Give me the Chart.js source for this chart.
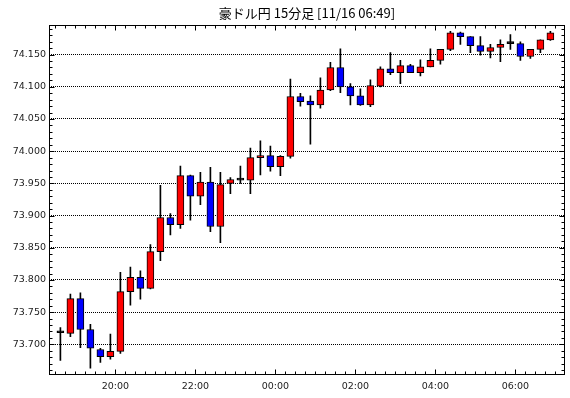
<!DOCTYPE html>
<html>
<head>
  <meta charset="utf-8">
  <script src="https://cdn.jsdelivr.net/npm/chart.js"></script>
  <style>
    body { margin: 0; background: #fff; }
  </style>
</head>
<body>
  <canvas id="chartContainer" width="570" height="398"></canvas>
  <script>
    // 15 minute candles, start time of each bar
    const times = ['18:30','18:45','19:00','19:15','19:30','19:45','20:00','20:15','20:30','20:45',
                   '21:00','21:15','21:30','21:45','22:00','22:15','22:30','22:45','23:00','23:15',
                   '23:30','23:45','00:00','00:15','00:30','00:45','01:00','01:15','01:30','01:45',
                   '02:00','02:15','02:30','02:45','03:00','03:15','03:30','03:45','04:00','04:15',
                   '04:30','04:45','05:00','05:15','05:30','05:45','06:00','06:15','06:30','06:45'];
    const opens  = [73.718,73.717,73.771,73.723,73.692,73.681,73.689,73.782,73.804,73.787,
                    73.844,73.897,73.886,73.962,73.930,73.952,73.883,73.950,73.955,73.955,
                    73.990,73.993,73.976,73.992,74.085,74.078,74.072,74.095,74.130,74.100,
                    74.086,74.072,74.101,74.128,74.122,74.133,74.122,74.131,74.141,74.158,
                    74.184,74.178,74.164,74.155,74.161,74.167,74.167,74.147,74.158,74.173];
    const highs  = [73.726,73.778,73.780,73.731,73.694,73.716,73.812,73.820,73.814,73.855,
                    73.947,73.903,73.977,73.963,73.967,73.975,73.967,73.959,73.977,74.005,
                    74.016,74.008,73.993,74.112,74.090,74.086,74.114,74.138,74.159,74.105,
                    74.097,74.111,74.131,74.153,74.141,74.135,74.142,74.159,74.158,74.186,
                    74.185,74.178,74.178,74.166,74.173,74.181,74.170,74.158,74.173,74.186];
    const lows   = [73.675,73.712,73.695,73.663,73.672,73.677,73.686,73.761,73.770,73.786,
                    73.830,73.870,73.880,73.893,73.917,73.875,73.858,73.934,73.950,73.934,
                    73.963,73.969,73.962,73.989,74.070,74.011,74.067,74.094,74.091,74.072,
                    74.071,74.069,74.100,74.119,74.105,74.122,74.117,74.131,74.135,74.156,
                    74.166,74.153,74.149,74.145,74.139,74.158,74.141,74.144,74.153,74.172];
    const closes = [73.718,73.771,73.723,73.694,73.681,73.689,73.782,73.804,73.787,73.844,
                    73.897,73.886,73.962,73.930,73.952,73.883,73.948,73.956,73.955,73.990,
                    73.993,73.976,73.992,74.085,74.077,74.072,74.095,74.130,74.100,74.086,
                    74.072,74.102,74.128,74.122,74.133,74.122,74.131,74.141,74.158,74.184,
                    74.178,74.164,74.155,74.161,74.166,74.167,74.147,74.158,74.173,74.184];
    const yTicks = [73.70, 73.75, 73.80, 73.85, 73.90, 73.95, 74.00, 74.05, 74.10, 74.15];
    const xTicks = ['20:00', '22:00', '00:00', '02:00', '04:00', '06:00'];
    const title = '豪ドル円 15分足 [11/16 06:49]';

    // minutes after 18:00
    function toMin(t) {
      var p = t.split(':');
      var m = (+p[0]) * 60 + (+p[1]) - 18 * 60;
      if (m < 0) m += 1440;
      return m;
    }

    const centers = times.map(t => toMin(t) + 7.5);
    const bodies = centers.map((x, i) => ({ x: x, y: [opens[i], closes[i]] }));
    const wicks = centers.map((x, i) => ({ x: x, y: [lows[i], highs[i]] }));

    function bodyColor(ctx) {
      var i = ctx.dataIndex;
      if (closes[i] > opens[i]) return '#ff0000';
      if (closes[i] < opens[i]) return '#0000ff';
      return '#000000';
    }

    // frame and inward tick marks
    const framePlugin = {
      id: 'frame',
      afterDatasetsDraw(chart) {
        const ctx = chart.ctx;
        const a = chart.chartArea;
        const x = chart.scales.x, y = chart.scales.y;
        const L = Math.round(a.left) + 0.5, R = Math.round(a.right) - 0.5;
        const T = Math.round(a.top) + 0.5, B = Math.round(a.bottom) - 0.5;
        ctx.save();
        ctx.strokeStyle = '#000';
        ctx.lineWidth = 1;
        ctx.beginPath();
        for (let m = Math.ceil(x.min / 15) * 15; m < x.max; m += 15) {
          const px = Math.round(x.getPixelForValue(m)) + 0.5;
          const len = (m % 120 === 0) ? 5 : 3;
          ctx.moveTo(px, B); ctx.lineTo(px, B - len);
          ctx.moveTo(px, T); ctx.lineTo(px, T + len);
        }
        for (let k = Math.ceil(y.min * 100); k <= Math.floor(y.max * 100); k++) {
          const py = Math.round(y.getPixelForValue(k / 100)) + 0.5;
          const len = (k % 5 === 0) ? 5 : 3;
          ctx.moveTo(L, py); ctx.lineTo(L + len, py);
          ctx.moveTo(R, py); ctx.lineTo(R - len, py);
        }
        ctx.stroke();
        ctx.strokeRect(L, T, R - L, B - T);
        ctx.restore();
      }
    };

    Chart.defaults.font.family = 'DejaVu Sans';
    Chart.defaults.color = '#000';

    const chart = new Chart(document.getElementById('chartContainer').getContext('2d'), {
      type: 'bar',
      data: {
        datasets: [{
          label: 'body',
          data: bodies,
          backgroundColor: bodyColor,
          borderColor: '#000',
          borderWidth: 1,
          borderSkipped: false,
          barThickness: 7,
          minBarLength: 2,
          grouped: false
        }, {
          label: 'wick',
          data: wicks,
          backgroundColor: '#000',
          borderWidth: 0,
          barThickness: 1,
          grouped: false
        }]
      },
      options: {
        responsive: false,
        animation: false,
        layout: { padding: { left: 0, right: 5, top: 0, bottom: 0 } },
        plugins: {
          legend: { display: false },
          tooltip: { enabled: false },
          title: {
            display: true,
            text: title,
            fullSize: false,
            color: '#000',
            font: { family: 'Noto Sans CJK JP', size: 13, weight: 'normal', lineHeight: 1.2 },
            padding: { top: 5, bottom: 4 }
          }
        },
        scales: {
          x: {
            type: 'linear',
            min: 20.4,
            max: 794.4,
            offset: false,
            grid: { display: false, drawTicks: false },
            border: { display: false },
            afterBuildTicks: s => { s.ticks = xTicks.map(t => ({ value: toMin(t) })); },
            afterFit: s => { s.height = 23; },
            ticks: {
              autoSkip: false,
              maxRotation: 0,
              padding: 6,
              color: '#222',
              font: { size: 9.5 },
              callback: (v, i) => xTicks[i]
            }
          },
          y: {
            min: 73.6524,
            max: 74.1966,
            grid: { color: '#000', lineWidth: 1, drawTicks: false },
            border: { display: false, dash: [1, 1] },
            afterBuildTicks: s => { s.ticks = yTicks.map(v => ({ value: v })); },
            afterFit: s => { s.width = 49; },
            ticks: {
              autoSkip: false,
              padding: 3,
              color: '#222',
              font: { size: 9.5 },
              callback: v => v.toFixed(3)
            }
          }
        }
      },
      plugins: [framePlugin]
    });
  </script>
</body>
</html>
